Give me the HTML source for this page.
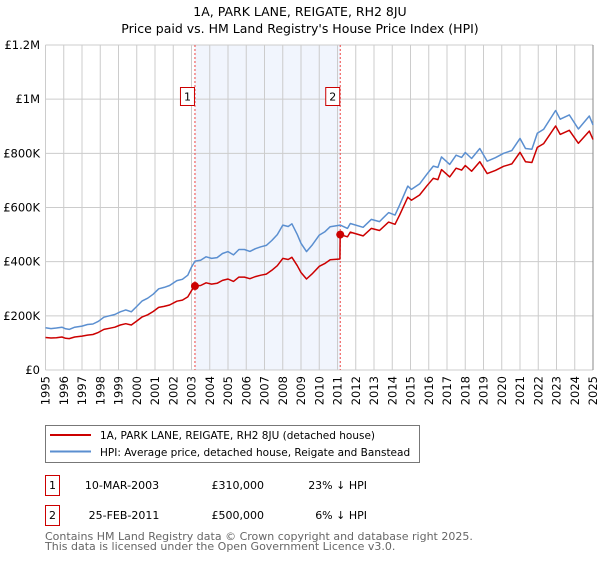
<!DOCTYPE html>
<html><head><meta charset="utf-8">
<style>
body{margin:0;background:#fff;width:600px;height:560px;overflow:hidden;font-family:"DejaVu Sans","Liberation Sans",sans-serif;}
svg text{font-family:"DejaVu Sans","Liberation Sans",sans-serif;}
</style></head>
<body>
<svg id="chart" width="600" height="560" viewBox="0 0 600 560">
<text x="300" y="16" text-anchor="middle" font-size="12.5" fill="#000">1A, PARK LANE, REIGATE, RH2 8JU</text>
<text x="300" y="33" text-anchor="middle" font-size="12.5" fill="#000">Price paid vs. HM Land Registry's House Price Index (HPI)</text>
<g id="plot"></g>
<g>
<rect x="45.5" y="425.5" width="374" height="37" fill="#fff" stroke="#777"/>
<line x1="50" y1="435" x2="91" y2="435" stroke="#cc0000" stroke-width="2"/>
<text x="100" y="439" font-size="10.5">1A, PARK LANE, REIGATE, RH2 8JU (detached house)</text>
<line x1="50" y1="451.5" x2="91" y2="451.5" stroke="#5b8fd0" stroke-width="2"/>
<text x="100" y="456" font-size="10.5">HPI: Average price, detached house, Reigate and Banstead</text>
</g>
<g font-size="11">
<rect x="45.5" y="475.5" width="14" height="20" fill="#fff" stroke="#cc0000"/>
<text x="52.5" y="489" text-anchor="middle">1</text>
<text x="122" y="489" text-anchor="middle">10-MAR-2003</text>
<text x="264" y="489" text-anchor="end">£310,000</text>
<text x="367" y="489" text-anchor="end">23% ↓ HPI</text>
<rect x="45.5" y="505.5" width="14" height="20" fill="#fff" stroke="#cc0000"/>
<text x="52.5" y="519" text-anchor="middle">2</text>
<text x="124" y="519" text-anchor="middle">25-FEB-2011</text>
<text x="264" y="519" text-anchor="end">£500,000</text>
<text x="367" y="519" text-anchor="end">6% ↓ HPI</text>
</g>
<text x="45" y="540" font-size="11" fill="#666">Contains HM Land Registry data © Crown copyright and database right 2025.</text>
<text x="45" y="550" font-size="11" fill="#666">This data is licensed under the Open Government Licence v3.0.</text>
</svg>
<script>
const hpiYears=[1995.0,1995.3,1995.6,1995.9,1996.1,1996.3,1996.6,1997.0,1997.3,1997.6,1997.9,1998.2,1998.5,1998.8,1999.1,1999.4,1999.7,2000.0,2000.3,2000.6,2000.9,2001.2,2001.5,2001.8,2002.2,2002.5,2002.8,2003.0,2003.19,2003.5,2003.8,2004.1,2004.4,2004.7,2005.0,2005.3,2005.6,2005.9,2006.2,2006.5,2006.8,2007.1,2007.4,2007.7,2008.0,2008.3,2008.5,2008.8,2009.0,2009.3,2009.6,2010.0,2010.3,2010.6,2011.15,2011.55,2011.7,2012.4,2012.85,2013.3,2013.8,2014.15,2014.4,2014.85,2015.05,2015.5,2015.9,2016.25,2016.5,2016.7,2017.15,2017.5,2017.8,2018.0,2018.35,2018.8,2019.2,2019.65,2020.1,2020.55,2021.0,2021.3,2021.65,2021.95,2022.3,2022.95,2023.2,2023.7,2024.2,2024.8,2025.0];
const hpiValues=[156,153,155,158,152,150,158,162,168,170,180,195,200,205,215,222,215,235,255,265,280,300,305,312,330,335,350,380,402,405,418,412,415,430,437,425,445,445,438,448,455,460,478,500,535,530,540,500,468,437,460,498,510,529,535,523,541,527,556,548,581,572,609,679,667,687,723,753,748,787,759,793,785,803,781,818,771,784,800,810,855,818,815,874,889,958,926,942,890,938,905];
const priceYears=[1995.0,1995.3,1995.6,1995.9,1996.1,1996.3,1996.6,1997.0,1997.3,1997.6,1997.9,1998.2,1998.5,1998.8,1999.1,1999.4,1999.7,2000.0,2000.3,2000.6,2000.9,2001.2,2001.5,2001.8,2002.2,2002.5,2002.8,2003.0,2003.19,2003.5,2003.8,2004.1,2004.4,2004.7,2005.0,2005.3,2005.6,2005.9,2006.2,2006.5,2006.8,2007.1,2007.4,2007.7,2008.0,2008.3,2008.5,2008.8,2009.0,2009.3,2009.6,2010.0,2010.3,2010.6,2011.13,2011.15,2011.55,2011.7,2012.4,2012.85,2013.3,2013.8,2014.15,2014.4,2014.85,2015.05,2015.5,2015.9,2016.25,2016.5,2016.7,2017.15,2017.5,2017.8,2018.0,2018.35,2018.8,2019.2,2019.65,2020.1,2020.55,2021.0,2021.3,2021.65,2021.95,2022.3,2022.95,2023.2,2023.7,2024.2,2024.8,2025.0];
const priceValues=[120,118,119,122,117,116,122,125,129,131,139,150,154,158,166,171,166,181,196,204,216,231,235,240,254,258,270,293,310,312,322,317,320,331,336,327,343,343,337,345,350,354,368,385,412,408,416,385,360,336,354,383,393,407,410,500,492,509,495,523,515,546,538,572,638,627,646,680,708,703,740,713,745,738,755,734,769,725,737,752,761,804,769,766,822,836,901,870,885,837,882,851];
const saleYears=[2003.19,2011.15];
const saleValues=[310,500];
const saleLabels=["1","2"];
const yTicks=[0,200,400,600,800,1000,1200];
const yTickLabels=["£0","£200K","£400K","£600K","£800K","£1M","£1.2M"];
const xTicks=[1995,1996,1997,1998,1999,2000,2001,2002,2003,2004,2005,2006,2007,2008,2009,2010,2011,2012,2013,2014,2015,2016,2017,2018,2019,2020,2021,2022,2023,2024,2025];

const NS="http://www.w3.org/2000/svg";
const X0=45.5,X1=593,Y0=370,Y1=45;
const xs=y=>X0+(y-1995)/30*(X1-X0);
const ys=v=>Y0-v/1200*(Y0-Y1);
const plot=document.getElementById('plot');
function mk(tag,attrs,parent){const e=document.createElementNS(NS,tag);for(const k in attrs)e.setAttribute(k,attrs[k]);(parent||plot).appendChild(e);return e;}

const shade=mk('rect',{x:xs(saleYears[0]),y:Y1,width:xs(saleYears[1])-xs(saleYears[0]),height:Y0-Y1,fill:'#eef3fc',opacity:'0.8'});



xTicks.forEach(t=>{
  const l=mk('line',{x1:xs(t),x2:xs(t),y1:Y1,y2:Y0,stroke:'#cccccc','stroke-width':1});
  
  
  const tx=mk('text',{x:0,y:0,'font-size':11.5,'text-anchor':'end',transform:`translate(${xs(t)+4},${Y0+6}) rotate(-90)`});
  tx.textContent=t;
  
  
});
yTicks.forEach((t,i)=>{
  const l=mk('line',{x1:X0,x2:X1,y1:ys(t),y2:ys(t),stroke:'#cccccc','stroke-width':1});
  
  
  const tx=mk('text',{x:40,y:ys(t)+4,'font-size':11.5,'text-anchor':'end'});
  tx.textContent=yTickLabels[i];
  
  
});
const rb=mk('line',{x1:X1,x2:X1,y1:Y1,y2:Y0,stroke:'#888','stroke-width':1});



saleYears.forEach((s,i)=>{
  const l=mk('line',{x1:xs(s),x2:xs(s),y1:Y1,y2:Y0,stroke:'#ee4444','stroke-width':1,'stroke-dasharray':'2,2'});
  
  
});

function pathD(xa,va){return xa.map((x,i)=>(i?'L':'M')+xs(x).toFixed(1)+','+ys(va[i]).toFixed(1)).join('');}
const hpiLine=mk('path',{d:pathD(hpiYears,hpiValues),fill:'none',stroke:'#5b8fd0','stroke-width':1.5,'stroke-linejoin':'round'});


const priceLine=mk('path',{d:pathD(priceYears,priceValues),fill:'none',stroke:'#cc0000','stroke-width':1.5,'stroke-linejoin':'round'});



saleYears.forEach((s,i)=>{
  const c=mk('circle',{cx:xs(s),cy:ys(saleValues[i]),r:4,fill:'#cc0000'});
  
  
  const b=mk('rect',{x:xs(s)-14.5,y:87.5,width:14,height:18,fill:'#fff',stroke:'#cc0000'});
  
  
  const t=mk('text',{x:xs(s)-7.5,y:100.5,'font-size':11,'text-anchor':'middle'});
  t.textContent=saleLabels[i];
  
  
});
</script>
</body></html>
